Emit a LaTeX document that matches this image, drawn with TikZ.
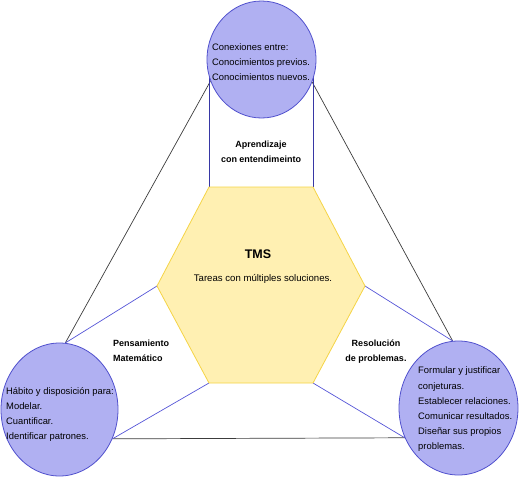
\documentclass[tikz,border=0pt]{standalone}
\usepackage{fontspec}
\setmainfont{Liberation Sans}
\usetikzlibrary{shapes.geometric,backgrounds}
\definecolor{circfill}{RGB}{176,176,242}
\definecolor{circline}{RGB}{80,80,205}
\definecolor{hexfill}{RGB}{255,240,178}
\definecolor{hexline}{RGB}{245,212,70}
\definecolor{linkblue}{RGB}{85,85,215}
\definecolor{linknavy}{RGB}{55,55,165}
\definecolor{linkgray}{RGB}{60,60,60}

\begin{document}
\begin{tikzpicture}[x=1pt,y=-1pt,
    bubble/.style={ellipse,draw=circline,fill=circfill,line width=0.8pt,inner sep=0pt},
    bubbletext/.style={anchor=west,align=left,inner sep=0pt,font=\fontsize{9.4}{15.2}\selectfont},
    edgelabel/.style={inner sep=0pt,font=\fontsize{9}{15}\selectfont\bfseries},
    bluelink/.style={draw=linkblue,line width=0.7pt},
    graylink/.style={draw=linkgray,line width=0.7pt}]
      \useasboundingbox (0,0) rectangle (520,477);
      % Three bubbles
      \node[bubble,minimum width=109pt,minimum height=117pt] (T) at (261.5,59.5) {};
      \node[bubble,minimum width=117pt,minimum height=133pt] (L) at (59.5,409.5) {};
      \node[bubble,minimum width=119pt,minimum height=134pt] (R) at (458.5,408) {};
      % Hexagon corners
      \foreach \nm/\px/\py in {hTL/209/187, hTR/313/187, hR/365/286, hBR/313/383, hBL/209/383, hL/157/286}
        \coordinate (\nm) at (\px,\py);
      \draw[draw=hexline,fill=hexfill,line width=0.8pt] (hTL) -- (hTR) -- (hR) -- (hBR) -- (hBL) -- (hL) -- cycle;
      % Links behind the shapes
      \begin{scope}[on background layer]
        \draw[graylink] (T.203) -- (L.85);
        \draw[graylink] (T.-24) -- (R.95);
        \draw[graylink] (L.-29) -- (R.209);
        \draw[bluelink] (hL) -- (L.85);
        \draw[bluelink] (hBL) -- (L.-29);
        \draw[bluelink] (hR) -- (R.95);
        \draw[bluelink] (hBR) -- (R.209);
        \draw[bluelink,draw=linknavy] (hTL) -- (hTL |- T.center);
        \draw[bluelink,draw=linknavy] (hTR) -- (hTR |- T.center);
      \end{scope}
      % Texts
      \node[bubbletext] (Ttext) at (212,62) {Conexiones entre:\\Conocimientos previos.\\Conocimientos nuevos.};
      \node[bubbletext] (Ltext) at (6,414.5) {Hábito y disposición para:\\Modelar.\\Cuantificar.\\Identificar patrones.};
      \node[bubbletext] (Rtext) at (418,409.5) {Formular y justificar\\conjeturas.\\Establecer relaciones.\\Comunicar resultados.\\Diseñar sus propios\\problemas.};
      \node[font=\fontsize{12.5}{14}\selectfont\bfseries,inner sep=0pt] (tms) at (258,254) {TMS};
      \node[font=\fontsize{9.6}{12}\selectfont,inner sep=0pt] (tareas) at (263,279) {Tareas con múltiples soluciones.};
      \node[edgelabel,align=center] (aprend) at (261,151.5) {Aprendizaje\\con entendimeinto};
      \node[edgelabel,align=left,anchor=west] (pensam) at (113,350.5) {Pensamiento\\Matemático};
      \node[edgelabel,align=center] (resol) at (376,351.5) {Resolución\\de problemas.};
    \end{tikzpicture}
\end{document}
